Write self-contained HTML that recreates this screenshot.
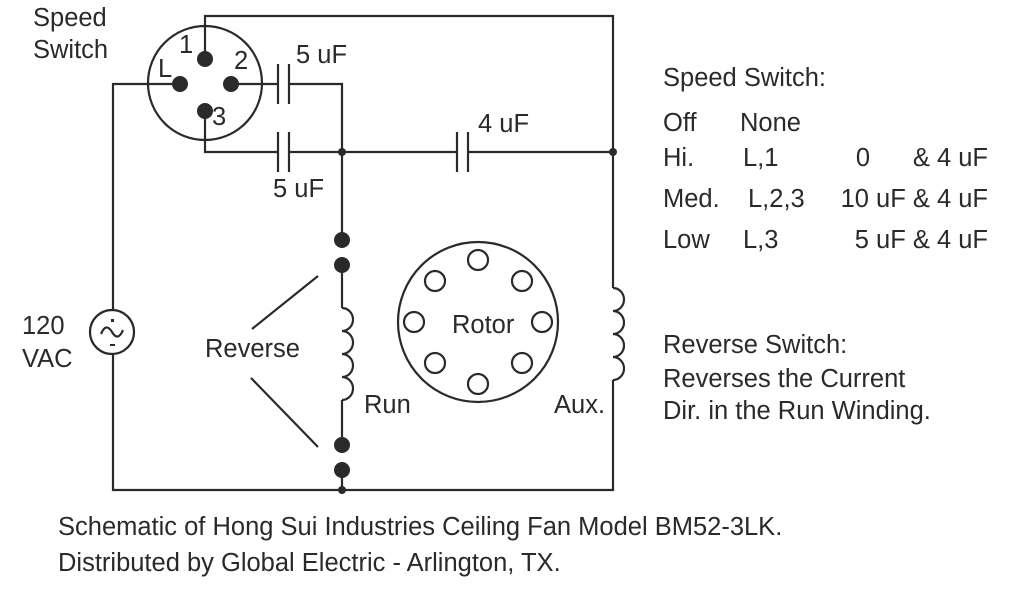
<!DOCTYPE html>
<html><head><meta charset="utf-8"><style>
html,body{margin:0;padding:0;background:#fff;}
svg{display:block}
text{font-family:"Liberation Sans",Arial,sans-serif;fill:#2a2a2a;font-size:25.5px}
</style></head><body>
<svg width="1024" height="600" viewBox="0 0 1024 600" xmlns="http://www.w3.org/2000/svg">
<g stroke="#2a2a2a" stroke-width="2.2" fill="none">
<circle cx="205" cy="83" r="57"/>
<polyline points="205,59 205,16 613,16 613,288"/>
<path d="M613,288 a11,11.5 0 0 1 0,23 a11,11.5 0 0 1 0,23 a11,11.5 0 0 1 0,23 a11,11.5 0 0 1 0,23"/>
<polyline points="613,380 613,490 113,490 113,354"/>
<polyline points="113,310 113,84 180,84"/>
<line x1="231" y1="84" x2="277" y2="84"/>
<line x1="278" y1="64" x2="278" y2="104"/>
<line x1="289" y1="64" x2="289" y2="104"/>
<polyline points="289,84 342,84 342,240"/>
<polyline points="205,111 205,152 277,152"/>
<line x1="278" y1="132" x2="278" y2="172"/>
<line x1="289" y1="132" x2="289" y2="172"/>
<line x1="289" y1="152" x2="456" y2="152"/>
<line x1="457" y1="132" x2="457" y2="172"/>
<line x1="468" y1="132" x2="468" y2="172"/>
<line x1="468" y1="152" x2="613" y2="152"/>
<line x1="342" y1="265" x2="342" y2="308"/>
<path d="M342,308 a11,11.5 0 0 1 0,23 a11,11.5 0 0 1 0,23 a11,11.5 0 0 1 0,23 a11,11.5 0 0 1 0,23"/>
<line x1="342" y1="400" x2="342" y2="445"/>
<line x1="342" y1="470" x2="342" y2="490"/>
<line x1="252" y1="329" x2="318" y2="276"/>
<line x1="251" y1="378" x2="318" y2="447"/>
<circle cx="112" cy="332" r="22"/>
<path d="M101,334 q5,-12 11,-2 q6,10 11,-2"/>
<circle cx="478" cy="322" r="80"/>
<circle cx="478" cy="260" r="10"/>
<circle cx="522" cy="281" r="10"/>
<circle cx="542" cy="322" r="10"/>
<circle cx="522" cy="363" r="10"/>
<circle cx="478" cy="384" r="10"/>
<circle cx="435" cy="363" r="10"/>
<circle cx="414" cy="322" r="10"/>
<circle cx="435" cy="281" r="10"/>
</g>
<g fill="#2a2a2a">
<circle cx="205" cy="59" r="8"/>
<circle cx="180" cy="84" r="8"/>
<circle cx="231" cy="84" r="8"/>
<circle cx="205" cy="111" r="8"/>
<circle cx="342" cy="152" r="4"/>
<circle cx="613" cy="152" r="4"/>
<circle cx="342" cy="240" r="8"/>
<circle cx="342" cy="265" r="8"/>
<circle cx="342" cy="445" r="8"/>
<circle cx="342" cy="470" r="8"/>
<circle cx="342" cy="490" r="4"/>
<rect x="111" y="319" width="3" height="3"/>
<rect x="110" y="344" width="5" height="2"/>
</g>
<text x="33" y="26">Speed</text>
<text x="33" y="58">Switch</text>
<text x="179" y="53" font-size="23">1</text>
<text x="158" y="77" font-size="23">L</text>
<text x="234" y="69">2</text>
<text x="212" y="125">3</text>
<text x="296" y="63">5 uF</text>
<text x="273" y="197">5 uF</text>
<text x="478" y="132">4 uF</text>
<text x="22" y="334">120</text>
<text x="22" y="367">VAC</text>
<text x="205" y="357">Reverse</text>
<text x="364" y="413">Run</text>
<text x="452" y="333">Rotor</text>
<text x="554" y="413">Aux.</text>
<text x="663" y="86">Speed Switch:</text>
<text x="663" y="131">Off</text><text x="740" y="131">None</text>
<text x="663" y="166">Hi.</text><text x="743" y="166">L,1</text>
<text x="870" y="166" text-anchor="end">0</text><text x="988" y="166" text-anchor="end">&amp; 4 uF</text>
<text x="663" y="207">Med.</text><text x="748" y="207">L,2,3</text>
<text x="988" y="207" text-anchor="end">10 uF &amp; 4 uF</text>
<text x="663" y="248">Low</text><text x="743" y="248">L,3</text>
<text x="988" y="248" text-anchor="end">5 uF &amp; 4 uF</text>
<text x="663" y="353">Reverse Switch:</text>
<text x="663" y="387">Reverses the Current</text>
<text x="663" y="419">Dir. in the Run Winding.</text>
<text x="58" y="535">Schematic of Hong Sui Industries Ceiling Fan Model BM52-3LK.</text>
<text x="58" y="571">Distributed by Global Electric - Arlington, TX.</text>
</svg>
</body></html>
